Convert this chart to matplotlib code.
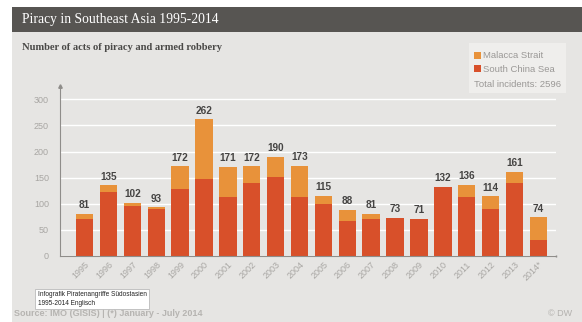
import matplotlib
matplotlib.use('Agg')
from matplotlib import pyplot as plt
from matplotlib.patches import Rectangle
import numpy as np

# 数据
years = ['1995', '1996', '1997', '1998', '1999', '2000', '2001', '2002', '2003', '2004',
         '2005', '2006', '2007', '2008', '2009', '2010', '2011', '2012', '2013', '2014*']
south_china_sea = [70, 122, 95, 90, 129, 147, 113, 139, 152, 113,
                   99, 67, 70, 73, 71, 132, 113, 89, 140, 30]
malacca_strait = [11, 13, 7, 3, 43, 115, 58, 33, 38, 60,
                  16, 21, 11, 0, 0, 0, 23, 25, 21, 44]
y_ticks = [0, 50, 100, 150, 200, 250, 300]

# 颜色
RED = '#d8502a'
ORANGE = '#e8923a'
PANEL = '#e6e5e3'
BAR_TITLE = '#575552'
TICK_GRAY = '#a8a6a3'
SPINE_GRAY = '#8f8d8a'

plt.rcParams['font.family'] = ['Liberation Sans', 'DejaVu Sans']

W, H = 582, 322
fig = plt.figure(figsize=(W / 100, H / 100), dpi=100)
fig.patch.set_facecolor('white')

# 背景面板和标题栏
fig.patches.append(Rectangle((12 / W, 0), 1 - 12 / W, 1 - 32 / H, transform=fig.transFigure,
                             facecolor=PANEL, edgecolor='none', zorder=-10))
fig.patches.append(Rectangle((12 / W, 1 - 32 / H), 1 - 12 / W, 25 / H, transform=fig.transFigure,
                             facecolor=BAR_TITLE, edgecolor='none', zorder=-10))
fig.text(22 / W, 1 - 20 / H, 'Piracy in Southeast Asia 1995-2014', color='white',
         family='Liberation Serif', fontsize=9.8, va='center', ha='left')
fig.text(22 / W, 1 - 48 / H, 'Number of acts of piracy and armed robbery', color='#4a4947',
         family='Liberation Serif', fontsize=7.6, fontweight='bold', va='center', ha='left')

ax = fig.add_axes([60 / W, 1 - 255.7 / H, (556 - 60) / W, (255.7 - 86.4) / H])
ax.set_facecolor('none')

x = np.arange(len(years))
totals = [a + b for a, b in zip(south_china_sea, malacca_strait)]
ax.bar(x, south_china_sea, width=0.73, color=RED, zorder=2)
ax.bar(x, malacca_strait, width=0.73, bottom=south_china_sea, color=ORANGE, zorder=2)

# 柱顶数值
for xi, t in zip(x, totals):
    ax.annotate(str(t), (xi, t), xytext=(0, 2.5), textcoords='offset points',
                ha='center', va='bottom', fontsize=7.2, fontweight='bold', color='#454443')

ax.set_xlim(-1.03, len(years) - 1 + 0.74)
ax.set_ylim(0, 325)
ax.set_yticks(y_ticks)
ax.yaxis.grid(True, color='white', lw=1)
ax.set_axisbelow(True)
ax.tick_params(axis='y', length=0, pad=8, labelsize=6.5, labelcolor=TICK_GRAY)
ax.tick_params(axis='x', length=0, pad=3, labelsize=6.5, labelcolor=TICK_GRAY)
ax.set_xticks(x)
ax.set_xticklabels(years, rotation=45, ha='right', rotation_mode='anchor')

for s in ['top', 'right']:
    ax.spines[s].set_visible(False)
for s in ['left', 'bottom']:
    ax.spines[s].set_color(SPINE_GRAY)
    ax.spines[s].set_linewidth(0.8)
# 轴端的小箭头和小刻度
ax.plot(0, 1, marker='^', markersize=2.5, color=SPINE_GRAY, transform=ax.transAxes, clip_on=False)
ax.plot(1, 0, marker='|', markersize=2, color=SPINE_GRAY, transform=ax.transAxes, clip_on=False)

# 图例框
fig.patches.append(Rectangle((469 / W, 1 - 93 / H), 97 / W, 50 / H, transform=fig.transFigure,
                             facecolor='#efeeec', edgecolor='none', zorder=-5))
legend_items = [('Malacca Strait', ORANGE, 55), ('South China Sea', RED, 69)]
for label, c, yy in legend_items:
    fig.patches.append(Rectangle((474 / W, 1 - (yy + 3.5) / H), 7 / W, 7 / H,
                                 transform=fig.transFigure, facecolor=c, edgecolor='none'))
    fig.text(483 / W, 1 - yy / H, label, color='#9a9896', fontsize=6.8, va='center', ha='left')
fig.text(474 / W, 1 - 84 / H, f'Total incidents: {sum(totals)}', color='#9a9896',
         fontsize=6.8, va='center', ha='left')

# 底部文字
fig.text(14 / W, 1 - 313 / H, 'Source: IMO (GISIS) | (*) January - July 2014', color='#b6b4b1',
         fontsize=6.5, fontweight='bold', va='center', ha='left')
fig.text(572 / W, 1 - 313 / H, '© DW', color='#b3b1ae', fontsize=6.5, va='center', ha='right')
fig.text(38 / W, 1 - 299 / H, 'Infografik Piratenangriffe Südostasien\n1995-2014 Englisch',
         color='#222222', fontsize=4.7, va='center', ha='left', linespacing=1.35,
         bbox=dict(boxstyle='square,pad=0.4', facecolor='white', edgecolor='#bbbbbb', lw=0.6))

fig.savefig('out.png', dpi=100)
